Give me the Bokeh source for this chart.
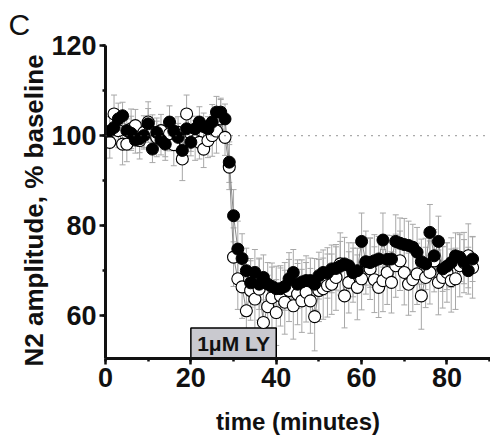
from bokeh.plotting import figure
from bokeh.models import (ColumnDataSource, Whisker, TeeHead, Span, Title,
                          SingleIntervalTicker, Range1d)
from bokeh.core.properties import value
from bokeh.embed import file_html
from bokeh.resources import INLINE

# ---------------- data ----------------
time_min = list(range(1, 87))

filled_vals = [101, 101.8, 103.7, 104.4, 101.1, 100.5, 99, 99.3, 100, 102.6,
               97, 100.7, 99, 98.1, 103, 101, 99.6, 96.7, 101.5, 98.5,
               101.5, 103, 102, 101.5, 103, 105.2, 105.2, 103.7, 94.1, 82.2,
               74.8, 72.7, 70, 67.3, 69.6, 67, 68.5, 67, 66.5, 66,
               66, 66.5, 68.2, 69.6, 67, 67.5, 67.8, 67.8, 67, 68.9,
               69.6, 69.5, 70.4, 70.5, 71, 71.5, 71.1, 69.6, 70, 76.5,
               72, 71.8, 72.2, 72.6, 76.8, 72.5, 72.6, 76.5, 76.1, 75.8,
               75.6, 75.2, 74.1, 72, 71.5, 78.5, 73.3, 76.5, 70.4, 71,
               71.8, 73.3, 73, 72, 70, 72.6]

open_vals = [98.5, 104.8, 101.1, 98.1, 98.1, 101.5, 102.2, 98.9, 100.7, 103,
             100.7, 99.6, 101.1, 98.5, 100.4, 98, 100.7, 94.8, 104.8, 100.4,
             98.9, 98.5, 97, 98.9, 100, 101, 103.7, 99.6, 93, 73,
             68.2, 66.4, 61.1, 65.6, 63.7, 65.9, 58.5, 62, 64, 60.7,
             64.4, 63, 65.6, 62.2, 64.8, 63.3, 65.2, 63.3, 59.8, 65.6,
             66, 66.7, 67, 68.5, 71.5, 64.4, 67.4, 69.6, 66.3, 68.2,
             71.8, 70.4, 68, 66.3, 67.8, 69.6, 67.4, 71.1, 72.2, 69.6,
             67, 68, 69.3, 64.4, 68.5, 69.6, 72.2, 67.4, 68.5, 69.6,
             67.8, 68.2, 71.1, 71.8, 73.3, 70.7]

filled_sem = [3.2, 2.8, 3.5, 3.0, 2.6, 3.8, 2.9, 3.1, 2.7, 3.4,
              3.0, 2.5, 3.3, 2.8, 3.6, 2.9, 3.1, 2.6, 3.2, 3.0,
              2.8, 3.4, 3.0, 2.7, 3.9, 3.5, 3.1, 3.3, 4.5, 5.8,
              6.2, 5.5, 5.0, 5.4, 5.1, 5.6, 5.0, 4.8, 5.2, 5.0,
              4.6, 5.3, 5.8, 5.1, 5.4, 4.9, 5.5, 5.0, 5.7, 5.2,
              5.0, 5.6, 5.3, 4.8, 5.5, 5.9, 5.1, 5.4, 5.0, 6.3,
              5.2, 5.5, 5.8, 5.0, 6.0, 5.4, 5.2, 5.9, 5.6, 5.8,
              5.4, 5.1, 5.5, 5.0, 5.7, 6.2, 5.3, 5.6, 5.0, 5.2,
              5.5, 5.1, 5.4, 4.9, 5.2, 5.0]

open_sem = [3.5, 4.2, 3.8, 4.6, 3.9, 4.4, 3.6, 4.1, 3.7, 4.5,
            3.9, 4.3, 3.6, 4.0, 3.8, 4.7, 3.5, 4.8, 4.2, 3.9,
            4.4, 3.7, 4.1, 3.8, 4.6, 4.9, 4.3, 4.0, 5.0, 6.5,
            6.8, 7.0, 7.4, 6.6, 7.2, 6.9, 7.5, 7.0, 6.8, 7.3,
            6.7, 7.1, 6.9, 7.4, 6.8, 7.0, 6.6, 7.2, 7.6, 6.9,
            6.8, 7.0, 6.7, 7.3, 6.9, 7.1, 6.8, 6.6, 7.2, 6.9,
            7.0, 6.8, 7.3, 6.7, 6.9, 7.1, 6.8, 7.0, 6.6, 7.2,
            6.9, 7.1, 6.8, 7.4, 6.7, 7.0, 6.9, 7.2, 6.8, 6.6,
            7.0, 6.8, 6.9, 6.7, 7.1, 6.8]

drug_start = [20]
drug_end = [40]
drug_label = ["1\u03bcM LY"]
baseline_level = 100

# ---------------- figure ----------------
FONT = "Liberation Sans"
INK = "#111111"

p = figure(width=490, height=437, output_backend="svg", toolbar_location=None,
           x_range=Range1d(0, 90.2), y_range=Range1d(50.5, 120),
           min_border_left=105, min_border_right=0, min_border_top=45,
           min_border_bottom=79)
p.outline_line_color = None
p.xgrid.visible = False
p.ygrid.visible = False
p.background_fill_color = "white"

# panel letter (top-left)
p.title = Title(text="C", text_font=FONT, text_font_style="normal",
                text_font_size="30px", text_color=INK, align="left",
                offset=-97, standoff=10)

src_f = ColumnDataSource(dict(t=time_min, v=filled_vals,
                              up=[a + b for a, b in zip(filled_vals, filled_sem)],
                              lo=[a - b for a, b in zip(filled_vals, filled_sem)]))
src_o = ColumnDataSource(dict(t=time_min, v=open_vals,
                              up=[a + b for a, b in zip(open_vals, open_sem)],
                              lo=[a - b for a, b in zip(open_vals, open_sem)]))

# baseline reference
p.add_layout(Span(location=baseline_level, dimension="width",
                  line_color="#555555", line_width=1.3, line_dash="1 6"))

# drug box
p.quad(left=drug_start, right=drug_end, bottom=50.5, top=57.3,
       fill_color="#c9c9cf", line_color="black", line_width=1.5)
p.text(x=[(drug_start[0] + drug_end[0]) / 2], y=[53.9], text=drug_label,
       text_font=value(FONT), text_font_style="bold", text_font_size="21px",
       text_align="center", text_baseline="middle", text_color=INK)

# error bars
for src in (src_o, src_f):
    w = Whisker(source=src, base="t", upper="up", lower="lo",
                line_color="#a8a8a8", line_width=1)
    w.upper_head = TeeHead(size=6, line_color="#a8a8a8", line_width=1)
    w.lower_head = TeeHead(size=6, line_color="#a8a8a8", line_width=1)
    p.add_layout(w)

# connecting lines
p.line("t", "v", source=src_o, line_color="#8a8a8a", line_width=1)
p.line("t", "v", source=src_f, line_color="#8a8a8a", line_width=1)

# markers
p.scatter("t", "v", source=src_o, size=12, fill_color="white",
          line_color="black", line_width=1.1)
p.scatter("t", "v", source=src_f, size=12, fill_color="black",
          line_color="black", line_width=1)

# axes
for ax in (p.xaxis[0], p.yaxis[0]):
    ax.ticker = SingleIntervalTicker(interval=20, num_minor_ticks=2)
    ax.axis_line_width = 3
    ax.axis_line_color = INK
    ax.major_tick_line_width = 2.5
    ax.major_tick_line_color = INK
    ax.major_tick_out = 6
    ax.major_tick_in = 0
    ax.minor_tick_line_width = 2.5
    ax.minor_tick_line_color = INK
    ax.minor_tick_out = 3
    ax.minor_tick_in = 0
    ax.major_label_text_font = FONT
    ax.major_label_text_font_style = "bold"
    ax.major_label_text_font_size = "27px"
    ax.major_label_text_color = INK
    ax.axis_label_text_font = FONT
    ax.axis_label_text_font_style = "bold"
    ax.axis_label_text_color = INK
p.xaxis.major_label_standoff = 3
p.yaxis.major_label_standoff = 3

p.xaxis.axis_label = "time (minutes)"
p.xaxis.axis_label_text_font_size = "24px"
p.xaxis.axis_label_standoff = 18

# y-axis title, placed as a side title so it can sit slightly below centre
p.add_layout(Title(text="N2 amplitude, % baseline", text_font=FONT,
                   text_font_style="bold", text_font_size="26px",
                   text_color=INK, align="left", offset=-8, standoff=0),
             "left")

open("out.html", "w").write(file_html(p, INLINE))
